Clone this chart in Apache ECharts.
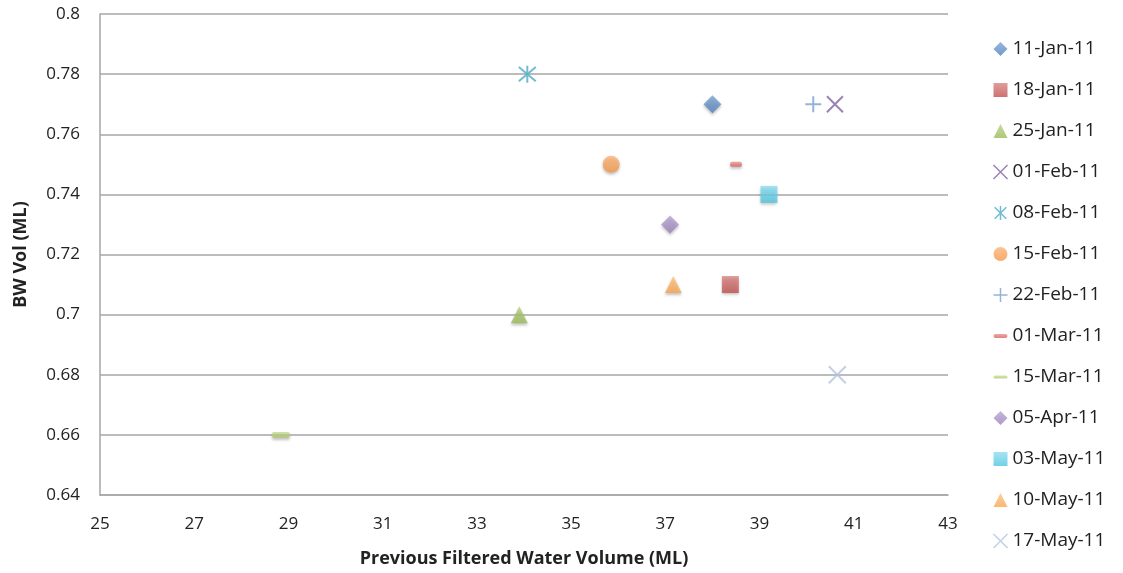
<!DOCTYPE html>
<html>
<head>
<meta charset="utf-8">
<script src="https://cdn.jsdelivr.net/npm/echarts@6/dist/echarts.min.js"></script>
<style>
  html, body { margin: 0; padding: 0; background: #fff; }
  #chart { width: 1123px; height: 573px; }
</style>
</head>
<body>
<div id="chart"></div>
<script>
// Weekly samples: previous filtered water volume (ML) vs backwash volume (ML)
const dates = ['11-Jan-11', '18-Jan-11', '25-Jan-11', '01-Feb-11', '08-Feb-11', '15-Feb-11',
  '22-Feb-11', '01-Mar-11', '15-Mar-11', '05-Apr-11', '03-May-11', '10-May-11', '17-May-11'];
const filteredVolume = [38.0, 38.38, 33.9, 40.6, 34.07, 35.85, 40.14, 38.5, 28.84, 37.1, 39.2, 37.17, 40.65];
const bwVolume = [0.77, 0.71, 0.70, 0.77, 0.78, 0.75, 0.77, 0.75, 0.66, 0.73, 0.74, 0.71, 0.68];

const xTicks = { min: 25, max: 43, step: 2 };
const yTicks = { min: 0.64, max: 0.80, step: 0.02 };

const colors = ['#4F81BD', '#C0504D', '#9BBB59', '#8064A2', '#4BACC6', '#F79646',
  '#7BA0CD', '#D9615E', '#AFCB72', '#9A81BB', '#4FC6E0', '#FAA54E', '#B4C3DE'];
const lightColors = ['#7FA3D3', '#D98482', '#B7D07F', '#A48CC0', '#7FC7DA', '#FBB57A',
  '#A3BCDD', '#E89290', '#C6DD98', '#B7A4D0', '#8CDDF0', '#FCC286', '#CCD7EA'];

const XPATH = 'path://M0 0L10 10M10 0L0 10';
const STAR = 'path://M0 0L10 10M10 0L0 10M5 -1L5 11';
const PLUS = 'path://M5 0L5 10M0 5L10 5';
const DASH = 'path://M1 0L9 0A1 1 0 0 1 9 3L1 3A1 1 0 0 1 1 0Z';
const BAR = 'path://M1.5 0L12.5 0A1.5 1.5 0 0 1 12.5 3L1.5 3A1.5 1.5 0 0 1 1.5 0Z';

// marker style for each series: [symbol, size, stroked, legend icon]
const markers = [
  ['diamond', 18, false, 'diamond'], ['rect', 17, false, 'rect'], ['triangle', 17, false, 'triangle'],
  [XPATH, 16, true, XPATH], [STAR, 17, true, STAR], ['circle', 17, false, 'circle'],
  [PLUS, 16, true, PLUS], [DASH, [12, 5], false, DASH], [BAR, [18, 6], false, BAR],
  ['diamond', 18, false, 'diamond'], ['rect', 17, false, 'rect'], ['triangle', 17, false, 'triangle'],
  [XPATH, 17, true, XPATH]
];

const font = '"Open Sans", "Noto Sans", sans-serif';

function fillFor(i) {
  return new echarts.graphic.LinearGradient(0, 0, 0, 1, [
    { offset: 0, color: lightColors[i] },
    { offset: 1, color: colors[i] }
  ]);
}

const series = dates.map((d, i) => {
  const [symbol, size, stroked] = markers[i];
  return {
    name: d,
    type: 'scatter',
    symbol: symbol,
    symbolSize: size,
    data: [[filteredVolume[i], bwVolume[i]]],
    itemStyle: stroked
      ? { color: 'none', borderColor: colors[i], borderWidth: 2 }
      : { color: fillFor(i), shadowColor: 'rgba(0,0,0,0.3)', shadowBlur: 3, shadowOffsetY: 2 },
    emphasis: { disabled: true }
  };
});

const legendData = dates.map((d, i) => ({
  name: d,
  icon: markers[i][3],
  itemStyle: markers[i][2]
    ? { color: 'none', borderColor: colors[i], borderWidth: 1.5 }
    : { color: fillFor(i), shadowBlur: 0, shadowOffsetY: 0 }
}));

const chart = echarts.init(document.getElementById('chart'), null, { renderer: 'canvas' });
chart.setOption({
  animation: false,
  color: colors,
  grid: { left: 100, right: 175, top: 14, bottom: 78 },
  xAxis: {
    type: 'value',
    min: xTicks.min, max: xTicks.max, interval: xTicks.step,
    name: 'Previous Filtered Water Volume (ML)',
    nameLocation: 'middle', nameGap: 55,
    nameTextStyle: { fontFamily: font, fontWeight: 'bold', fontSize: 18, color: '#222' },
    axisLine: { show: true, lineStyle: { color: '#A6A6A6', width: 1.5 } },
    axisTick: { show: false },
    axisLabel: { fontFamily: font, fontSize: 17, color: '#222', margin: 21 },
    splitLine: { show: false }
  },
  yAxis: {
    type: 'value',
    min: yTicks.min, max: yTicks.max, interval: yTicks.step,
    name: 'BW Vol (ML)',
    nameLocation: 'middle', nameGap: 70,
    nameTextStyle: { fontFamily: font, fontWeight: 'bold', fontSize: 18, color: '#222' },
    axisLine: { show: true, lineStyle: { color: '#A6A6A6', width: 1.5 } },
    axisTick: { show: false },
    axisLabel: { fontFamily: font, fontSize: 17, color: '#222', margin: 20,
      formatter: v => String(+v.toFixed(2)) },
    splitLine: { show: true, lineStyle: { color: '#A6A6A6', width: 1.5 } }
  },
  legend: {
    orient: 'vertical',
    left: 991, top: 39,
    padding: 0,
    itemGap: 21,
    itemWidth: 14, itemHeight: 14,
    textStyle: { fontFamily: font, fontSize: 19, lineHeight: 20, color: '#222' },
    data: legendData
  },
  series: series
});
</script>
</body>
</html>
